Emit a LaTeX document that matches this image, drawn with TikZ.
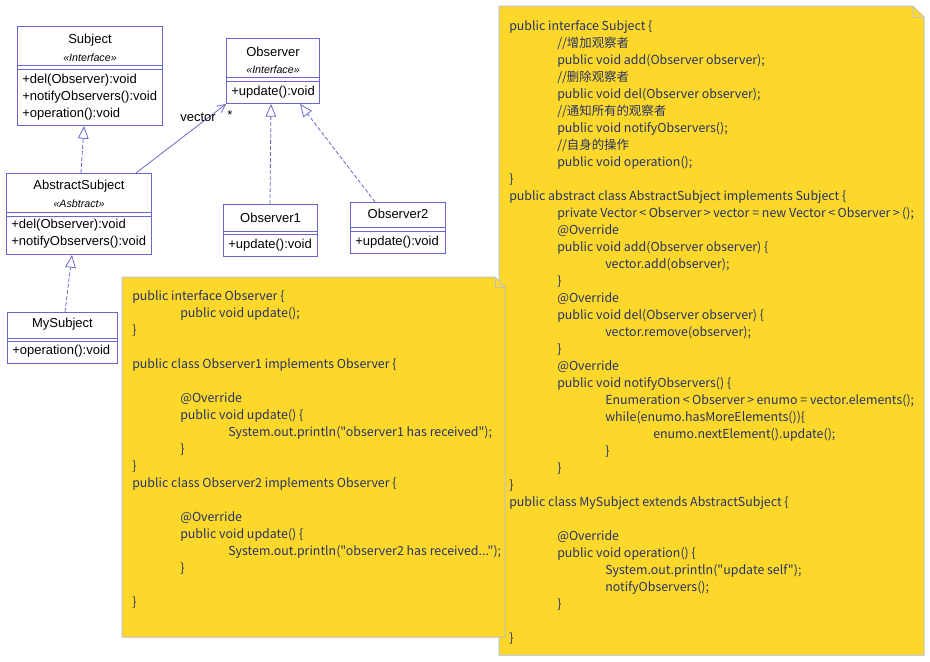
\documentclass[tikz,border=0pt]{standalone}
\usepackage{fontspec}
\setmainfont{Liberation Sans}
\newfontfamily\codefont{Noto Sans CJK SC}
\usetikzlibrary{arrows.meta,positioning}
\definecolor{umlblue}{RGB}{102,102,204}
\definecolor{noteyellow}{RGB}{253,216,42}
\definecolor{noteedge}{RGB}{192,192,192}
\definecolor{codeink}{RGB}{38,52,100}
\def \px {0.75pt}
\def \tb {\hspace*{36pt}}
\def \lt {\kern1.8pt<\kern1.8pt}
\def \gt {\kern1.8pt>\kern1.8pt}
\tikzstyle{classbox} = [draw=umlblue,line width=\px,rectangle,inner sep=0,anchor=north west]
\tikzstyle{umlline} = [draw=umlblue,line width=\px]
\tikzstyle{classname} = [font=\fontsize{9.75}{12}\selectfont,inner sep=0]
\tikzstyle{stereo} = [font=\fontsize{8}{9}\selectfont\itshape,inner sep=0]
\tikzstyle{method} = [font=\fontsize{9.75}{12}\selectfont,anchor=west,inner ysep=0,inner xsep=3.75pt]
\tikzstyle{realize} = [umlblue,line width=0.6pt,dash pattern=on 3pt off 1.5pt,-{Triangle[open,length=9.5pt,width=8pt]}]
\tikzstyle{assoc} = [umlblue,line width=0.6pt,-{Straight Barb[length=6pt,width=6pt]}]
\tikzstyle{notebox} = [draw=noteedge,fill=noteyellow,line width=\px]
\tikzstyle{notefold} = [draw=noteedge,line width=\px]
\tikzstyle{codetext} = [font=\codefont\fontsize{9.3}{12.75}\selectfont,text=codeink,align=left,anchor=base west,inner sep=0]

\begin{document}
\begin{tikzpicture}[x=\px,y=-\px]
  \useasboundingbox (0,0) rectangle (930,661);

  % notes (the base of a note is its last line)
  \draw[notebox] (499,6) -- (913,6) -- (924,17) -- (924,655) -- (499,655) -- cycle;
  \draw[notefold] (913,6) -- (913,17) -- (924,17);
  \node[codetext] (subjectcode) at (509,642) {public interface Subject \{\\
    \tb //增加观察者\\
    \tb public void add(Observer observer);\\
    \tb //删除观察者\\
    \tb public void del(Observer observer);\\
    \tb //通知所有的观察者\\
    \tb public void notifyObservers();\\
    \tb //自身的操作\\
    \tb public void operation();\\
    \}\\
    public abstract class AbstractSubject implements Subject \{\\
    \tb private Vector\lt Observer\gt vector = new Vector\lt Observer\gt();\\
    \tb @Override\\
    \tb public void add(Observer observer) \{\\
    \tb\tb vector.add(observer);\\
    \tb \}\\
    \tb @Override\\
    \tb public void del(Observer observer) \{\\
    \tb\tb vector.remove(observer);\\
    \tb \}\\
    \tb @Override\\
    \tb public void notifyObservers() \{\\
    \tb\tb Enumeration\lt Observer\gt enumo = vector.elements();\\
    \tb\tb while(enumo.hasMoreElements())\{\\
    \tb\tb\tb enumo.nextElement().update();\\
    \tb\tb \}\\
    \tb \}\\
    \}\\
    public class MySubject extends AbstractSubject \{\\
    \mbox{}\\
    \tb @Override\\
    \tb public void operation() \{\\
    \tb\tb System.out.println("update self");\\
    \tb\tb notifyObservers();\\
    \tb \}\\
    \mbox{}\\
    \}};

  \draw[notebox] (122,277) -- (495,277) -- (505,287) -- (505,637) -- (122,637) -- cycle;
  \draw[notefold] (495,277) -- (495,287) -- (505,287);
  \node[codetext] (observercode) at (132,606) {public interface Observer \{\\
    \tb public void update();\\
    \}\\
    \mbox{}\\
    public class Observer1 implements Observer \{\\
    \mbox{}\\
    \tb @Override\\
    \tb public void update() \{\\
    \tb\tb System.out.println("observer1 has received");\\
    \tb \}\\
    \}\\
    public class Observer2 implements Observer \{\\
    \mbox{}\\
    \tb @Override\\
    \tb public void update() \{\\
    \tb\tb System.out.println("observer2 has received...");\\
    \tb \}\\
    \mbox{}\\
    \}};

  % classes
  \node[classbox,minimum width=145*\px,minimum height=99*\px] (subject) at (17,26) {};
  \draw[umlline] (subject.west |- 0,65) -- (subject.east |- 0,65);
  \draw[umlline] (subject.west |- 0,69) -- (subject.east |- 0,69);
  \node[classname] (subjectname) at (subject.north |- 0,40.5) {Subject};
  \node[stereo] (subjectstereo) at (subject.north |- 0,57.5) {«Interface»};
  \node[method] (subjectdel) at (subject.west |- 0,80) {+del(Observer):void};
  \node[method] (subjectnotify) at (subject.west |- 0,97) {+notifyObservers():void};
  \node[method] (subjectop) at (subject.west |- 0,114) {+operation():void};

  \node[classbox,minimum width=93*\px,minimum height=65*\px] (observer) at (226,38) {};
  \draw[umlline] (observer.west |- 0,77) -- (observer.east |- 0,77);
  \draw[umlline] (observer.west |- 0,81) -- (observer.east |- 0,81);
  \node[classname] (observername) at (observer.north |- 0,52) {Observer};
  \node[stereo] (observerstereo) at (observer.north |- 0,69.5) {«Interface»};
  \node[method] (observerupdate) at (observer.west |- 0,92) {+update():void};

  \node[classbox,minimum width=145*\px,minimum height=81*\px] (absubject) at (6,173) {};
  \draw[umlline] (absubject.west |- 0,212) -- (absubject.east |- 0,212);
  \draw[umlline] (absubject.west |- 0,216) -- (absubject.east |- 0,216);
  \node[classname] (absubjectname) at (absubject.north |- 0,186.5) {AbstractSubject};
  \node[stereo] (absubjectstereo) at (absubject.north |- 0,203.5) {«Asbtract»};
  \node[method] (absubjectdel) at (absubject.west |- 0,225) {+del(Observer):void};
  \node[method] (absubjectnotify) at (absubject.west |- 0,242) {+notifyObservers():void};

  \node[classbox,minimum width=94*\px,minimum height=52*\px] (observerone) at (223,204) {};
  \draw[umlline] (observerone.west |- 0,231) -- (observerone.east |- 0,231);
  \draw[umlline] (observerone.west |- 0,234) -- (observerone.east |- 0,234);
  \node[classname] (observeronename) at (observerone.north |- 0,218) {Observer1};
  \node[method] (observeroneupdate) at (observerone.west |- 0,245) {+update():void};

  \node[classbox,minimum width=95*\px,minimum height=51*\px] (observertwo) at (350,202) {};
  \draw[umlline] (observertwo.west |- 0,227) -- (observertwo.east |- 0,227);
  \draw[umlline] (observertwo.west |- 0,231) -- (observertwo.east |- 0,231);
  \node[classname] (observertwoname) at (observertwo.north |- 0,214) {Observer2};
  \node[method] (observertwoupdate) at (observertwo.west |- 0,242) {+update():void};

  \node[classbox,minimum width=110*\px,minimum height=51*\px] (mysubject) at (7,312) {};
  \draw[umlline] (mysubject.west |- 0,338) -- (mysubject.east |- 0,338);
  \draw[umlline] (mysubject.west |- 0,341) -- (mysubject.east |- 0,341);
  \node[classname] (mysubjectname) at (mysubject.north |- 0,324.5) {MySubject};
  \node[method] (mysubjectop) at (mysubject.west |- 0,351) {+operation():void};

  % relations
  \draw[realize] (absubject.north -| 81,0) -- (subject.south -| 84,0);
  \draw[realize] (mysubject.north -| 65,0) -- (absubject.south -| 72,0);
  \draw[realize] (observerone.north -| 270,0) -- (observer.south -| 271,0);
  \draw[realize] (observertwo.north -| 375,0) -- (observer.south -| 300,0);
  \draw[assoc] (absubject.north -| 136,0) -- (observer.south west);
  \node[classname] (rolename) at (198,117) {vector};
  \node[classname] (multiplicity) at (230,115) {*};
\end{tikzpicture}
\end{document}
